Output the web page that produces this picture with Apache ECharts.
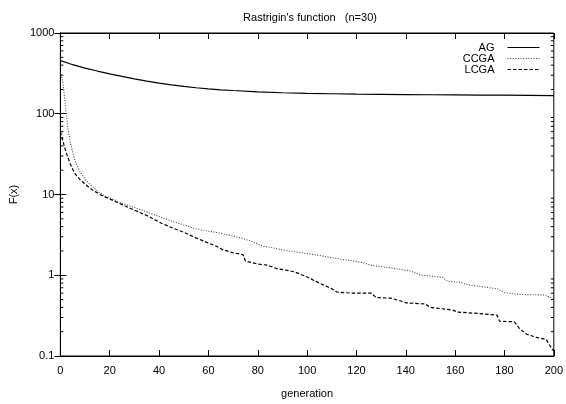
<!DOCTYPE html>
<html>
<head>
<meta charset="utf-8">
<script src="https://cdn.jsdelivr.net/npm/echarts@6/dist/echarts.min.js"></script>
<style>html,body{margin:0;padding:0;background:#fff;}#c{width:566px;height:404px;}</style>
</head>
<body>
<div id="c"></div>
<script>
const titleText = "Rastrigin's function   (n=30)";
const xName = "generation";
const yName = "F(x)";
const seriesNames = ["AG", "CCGA", "LCGA"];

const agGen = [0,1,3,5,10,15,20,25,30,35,40,45,50,55,60,65,70,80,90,100,110,120,130,140,150,160,170,180,190,200];
const agVal = [455,445,425,405,368,338,312,290,270,253,240,228,218,210,203,198,194,187,182,179,177,175,174,173,172,171,170,170,169,168];

const ccgaGen = [0,1,2,3,4,5,6,7,8,10,12,15,18,21,25,30,35,41,45,50,55,60,64,70,74,78,82,86,90,95,100,105,110,115,118,123,126,130,135,142,146,150,155,157,162,165,170,177,180,185,190,196,200];
const ccgaVal = [330,250,130,68,45,33,26,22,19,15.5,13.3,11,9.6,8.8,7.8,6.9,6.1,5.2,4.7,4.2,3.76,3.5,3.37,3.05,2.85,2.6,2.3,2.19,2.06,1.95,1.85,1.76,1.65,1.56,1.52,1.42,1.33,1.28,1.22,1.13,1.0,0.98,0.94,0.84,0.82,0.76,0.73,0.68,0.61,0.58,0.575,0.57,0.51];

const lcgaGen = [0,1,2,3,4,5,6,8,10,13,16,20,25,30,35,41,45,50,55,60,63,66,70,74,75,80,84,88,92,95,100,105,110,112,118,126,128,134,138,140,148,150,159,161,170,177,178,184,186,189,193,197,198,200];
const lcgaVal = [60,46,36,29,24,20.5,18,15.3,13.4,11.4,10,8.8,7.5,6.4,5.5,4.4,3.9,3.4,2.9,2.5,2.3,2.06,1.9,1.8,1.5,1.38,1.33,1.2,1.15,1.1,0.95,0.8,0.68,0.62,0.60,0.60,0.53,0.52,0.48,0.456,0.44,0.40,0.37,0.35,0.335,0.32,0.27,0.265,0.22,0.186,0.17,0.16,0.14,0.115];

const xTicks = [0,20,40,60,80,100,120,140,160,180,200];
const yMin = 0.1, yMax = 1000;

function pairs(g, v) { return g.map((x, i) => [x, v[i]]); }
const minorVals = [];
for (let d = 0.1; d < 1000; d *= 10) for (let k = 2; k <= 9; k++) minorVals.push([0, +(d * k).toPrecision(3)]);

const FONT = "Liberation Sans";
const chart = echarts.init(document.getElementById('c'), null, {renderer: 'canvas'});
chart.setOption({
  animation: false,
  backgroundColor: '#fff',
  title: {
    text: titleText, left: 305, top: 7, textAlign: 'center',
    textStyle: {fontFamily: FONT, fontSize: 11, fontWeight: 'normal', color: '#000'}
  },
  legend: {
    orient: 'vertical', right: 21, top: 37, align: 'right',
    itemWidth: 32, itemHeight: 6, itemGap: 0,
    itemStyle: {opacity: 0},
    lineStyle: {width: 1},
    data: seriesNames,
    textStyle: {fontFamily: FONT, fontSize: 11, lineHeight: 11, color: '#000', padding: [0, 8, 0, 0]}
  },
  grid: {left: 57, right: 12, top: 33, bottom: 38, show: true, borderColor: '#000', borderWidth: 1},
  xAxis: [{
    type: 'value', min: 0, max: 200, interval: 20,
    name: xName, nameLocation: 'middle', nameGap: 32,
    nameTextStyle: {fontFamily: FONT, fontSize: 11, color: '#000'},
    axisLine: {lineStyle: {color: '#000', width: 1}},
    axisTick: {inside: true, length: 6, lineStyle: {color: '#000'}},
    axisLabel: {fontFamily: FONT, fontSize: 11, color: '#000', margin: 9},
    splitLine: {show: false}
  }, {
    type: 'value', min: 0, max: 200, interval: 20, position: 'top',
    axisLine: {lineStyle: {color: '#000'}},
    axisTick: {inside: true, length: 6, lineStyle: {color: '#000'}},
    axisLabel: {show: false}, splitLine: {show: false}
  }],
  yAxis: [{
    type: 'log', logBase: 10, min: yMin, max: yMax,
    name: yName, nameLocation: 'middle', nameGap: 38,
    nameTextStyle: {fontFamily: FONT, fontSize: 11, color: '#000'},
    axisLine: {show: true, lineStyle: {color: '#000'}},
    axisTick: {inside: true, length: 6, lineStyle: {color: '#000'}},
    axisLabel: {fontFamily: FONT, fontSize: 11, color: '#000', margin: 6,
      formatter: v => String(+v.toPrecision(3))},
    splitLine: {show: false}
  }, {
    type: 'log', logBase: 10, min: yMin, max: yMax, position: 'right',
    axisLine: {show: true, lineStyle: {color: '#000'}},
    axisTick: {inside: true, length: 6, lineStyle: {color: '#000'}},
    axisLabel: {show: false}, splitLine: {show: false}
  }],
  series: [
    {
      name: seriesNames[0], type: 'line', data: pairs(agGen, agVal),
      showSymbol: false, symbol: 'none',
      lineStyle: {color: '#000', width: 1.2, type: 'solid'},
      itemStyle: {color: '#000'}
    },
    {
      name: seriesNames[1], type: 'line', data: pairs(ccgaGen, ccgaVal),
      showSymbol: false, symbol: 'none',
      lineStyle: {color: '#444', width: 1.1, type: [1, 1.6]},
      itemStyle: {color: '#444'}
    },
    {
      name: seriesNames[2], type: 'line', data: pairs(lcgaGen, lcgaVal),
      showSymbol: false, symbol: 'none',
      lineStyle: {color: '#000', width: 1.2, type: [3.5, 2]},
      itemStyle: {color: '#000'}
    },
    {
      type: 'custom', silent: true, data: minorVals, z: 1,
      renderItem: function (params, api) {
        const v = api.value(1);
        const a = api.coord([0, v]);
        const b = api.coord([200, v]);
        return {
          type: 'group', children: [
            {type: 'line', shape: {x1: a[0], y1: a[1], x2: a[0] + 3, y2: a[1]}, style: {stroke: '#000', lineWidth: 1}},
            {type: 'line', shape: {x1: b[0] - 3, y1: b[1], x2: b[0], y2: b[1]}, style: {stroke: '#000', lineWidth: 1}}
          ]
        };
      }
    }
  ]
});
</script>
</body>
</html>
